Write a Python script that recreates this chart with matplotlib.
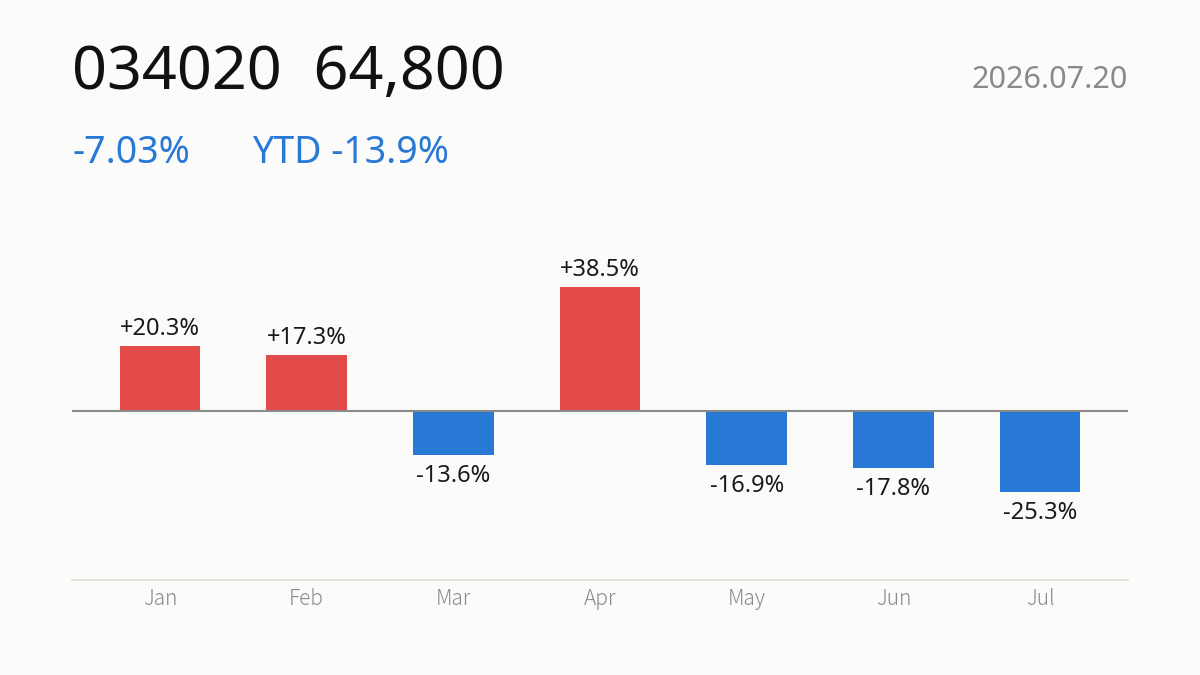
import matplotlib
matplotlib.use("Agg")
import matplotlib.pyplot as plt

months = ["Jan", "Feb", "Mar", "Apr", "May", "Jun", "Jul"]
changes = [20.3, 17.3, -13.6, 38.5, -16.9, -17.8, -25.3]

code = "034020"
price = "64,800"
date_str = "2026.07.20"
day_change = "-7.03%"
ytd_change = "YTD -13.9%"

RED = "#e34a4a"
BLUE = "#2878d6"
BG = "#fbfbf9"

plt.rcParams['font.family'] = ['Noto Sans', 'DejaVu Sans']

fig = plt.figure(figsize=(12, 6.75), dpi=100, facecolor=BG)
ax = fig.add_axes([0.06, 0.1407, 0.88, 0.563])
ax.set_facecolor(BG)

x = list(range(len(months)))
colors = [RED if v >= 0 else BLUE for v in changes]
ax.bar(x, changes, width=0.55, color=colors, zorder=2)
ax.axhline(0, color="#8a8a8a", lw=1.5, zorder=3)

# value labels above / below each bar
for xi, v in zip(x, changes):
    if v >= 0:
        ax.annotate(f"+{v:.1f}%", (xi, v), xytext=(0, 17), textcoords="offset pixels",
                    ha="center", va="center", fontsize=17, color="#1a1a1a")
    else:
        ax.annotate(f"{v:.1f}%", (xi, v), xytext=(0, -21), textcoords="offset pixels",
                    ha="center", va="center", fontsize=17, color="#1a1a1a")

ax.set_xlim(-0.6, 6.6)
ax.set_ylim(-52.5, 65.5)
ax.set_yticks([])
ax.set_xticks(x)
ax.set_xticklabels(months, fontsize=15, color="#8a8a8a", fontweight="light",
                   family=['Noto Sans CJK JP', 'DejaVu Sans'])
ax.tick_params(axis="x", length=0, pad=6)
for s in ["top", "left", "right"]:
    ax.spines[s].set_visible(False)
ax.spines["bottom"].set_color("#dededa")
ax.spines["bottom"].set_linewidth(1.2)

fig.text(0.06, 0.891, f"{code}  {price}", fontsize=44, color="#111111", va="center", ha="left")
fig.text(0.94, 0.882, date_str, fontsize=22, color="#8a8a8a", va="center", ha="right")
fig.text(0.06, 0.774, day_change, fontsize=27, color=BLUE, va="center", ha="left")
fig.text(0.21, 0.774, ytd_change, fontsize=27, color=BLUE, va="center", ha="left")

fig.savefig("out.png", dpi=100, facecolor=BG)
